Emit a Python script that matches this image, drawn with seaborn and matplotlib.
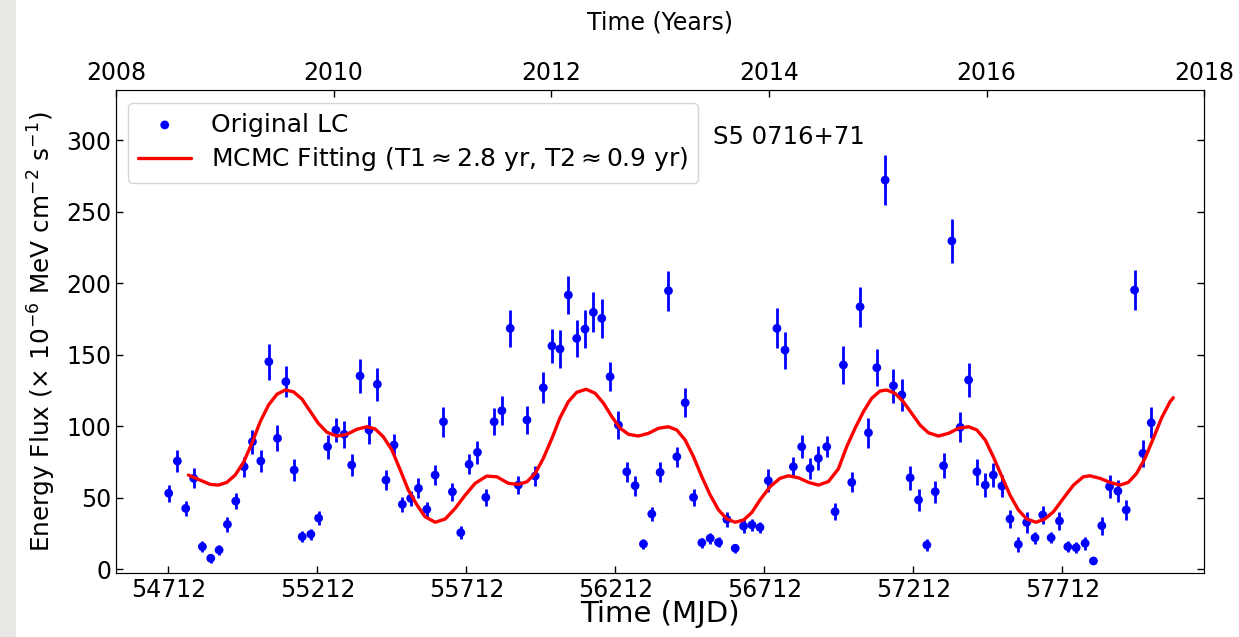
import numpy as np
import matplotlib
matplotlib.use("Agg")
import matplotlib.pyplot as plt
from matplotlib.patches import Rectangle
import seaborn as sns

# ---- data ----
lc_mjd = [54713, 54742, 54770, 54797, 54826, 54854, 54882, 54910, 54938, 54966, 54994, 55022, 55049, 55078, 55106, 55134, 55161, 55190, 55216,
          55246, 55274, 55302, 55327, 55355, 55385, 55413, 55442, 55469, 55497, 55525, 55551, 55579, 55607, 55635, 55665, 55693, 55721, 55749, 55777, 55805,
          55831, 55859, 55886, 55915, 55943, 55970, 55999, 56026, 56054, 56082, 56110, 56138, 56166, 56194, 56222, 56250, 56278, 56306, 56334, 56362, 56390, 56418,
          56446, 56474, 56502, 56530, 56558, 56586, 56614, 56642, 56670, 56697, 56725, 56754, 56781, 56809, 56837, 56865, 56893, 56921, 56949, 56977, 57005, 57033,
          57061, 57089, 57117, 57145, 57173, 57201, 57229, 57257, 57285, 57313, 57341, 57369, 57397, 57425, 57453, 57480, 57509, 57536, 57564, 57592, 57620,
          57646, 57674, 57702, 57730, 57758, 57788, 57816, 57844, 57870, 57898, 57926, 57954, 57982, 58010]

lc_flux = [53, 75.5, 42.4, 63.4, 15.6, 7.5, 13.3, 31.2, 47.5, 71.5, 89, 75.5, 145, 91.4, 131, 69.2, 22.6, 24.3, 35.6,
           85.5, 97.2, 94.2, 72.7, 135, 97.2, 129.2, 62.2, 86.7, 45.2, 49.4, 56.4, 41.7, 65.7, 103, 54, 25.4, 73.2, 81.6, 50.1, 103,
           110.7, 168.3, 58.7, 104.2, 65, 126.8, 156, 153.9, 191.6, 161.3, 167.8, 179.5, 175.3, 134.5, 100.7, 68, 58.3, 17.5, 38.5, 67.6, 194.6, 78.5,
           116.3, 50.1, 18.4, 21.5, 18.6, 34.7, 14.5, 30, 30.8, 29.1, 61.8, 168.3, 153.1, 71.5, 85.5, 70.4, 77.4, 85.5, 40.1, 142.7, 60.6, 183.4,
           95.3, 140.8, 272, 128.2, 121.7, 63.8, 48.3, 16.8, 54.1, 72.2, 229.4, 99.1, 132.2, 68, 58.7, 65.7, 58, 35, 17.2, 32.6, 21.9,
           37.8, 21.9, 33.6, 15.6, 14.9, 18, 5.6, 30.3, 57.6, 54.5, 41.3, 195.1, 80.9, 102.3]

lc_err = [6, 8, 5.5, 7, 4, 3, 3.5, 5, 5.5, 7, 8.5, 8, 12.5, 9, 11, 7.5, 4, 4, 5,
          8.5, 8.5, 9.5, 7.5, 12, 9.5, 11.5, 7, 8, 5.5, 5.5, 7, 5, 7, 10.5, 6.5, 4.5, 7, 8, 6, 9.5,
          10, 13, 6.5, 9.5, 7, 11, 12, 13, 13, 13, 13.5, 14, 13.5, 10, 10, 7, 7, 3.5, 5, 7, 14, 7,
          10, 6, 3.5, 4, 3.5, 5, 3, 5, 4.5, 4, 8, 14, 13, 7, 8, 7.5, 8.5, 7.5, 6, 13, 7, 14,
          10.5, 13, 17.5, 12, 11.3, 8.4, 7.6, 4.3, 7.7, 8.7, 15.5, 10.5, 11.7, 9, 8.4, 8.4, 7.5, 6.2, 5.4, 7.6, 4.3,
          6, 4, 6, 4, 4, 4.5, 2, 6.4, 8.2, 7.6, 7, 14, 9.3, 11]

fit_mjd = [54779, 54818, 54852, 54880, 54908, 54936, 54964, 54992, 55020, 55048, 55076, 55104, 55131, 55160, 55187, 55215,
           55244, 55277, 55311, 55344, 55378, 55406, 55433, 55462, 55490, 55517, 55546, 55573, 55607, 55641, 55674, 55708,
           55741, 55780, 55814, 55853, 55886, 55915, 55943, 55970, 55999, 56026, 56054, 56082, 56114, 56144, 56172, 56200,
           56228, 56256, 56289, 56323, 56356, 56390, 56418, 56446, 56474, 56502, 56530, 56558, 56586, 56614, 56642, 56670,
           56697, 56731, 56764, 56792, 56826, 56860, 56893, 56927, 56960, 56988, 57016, 57044, 57072, 57100, 57122, 57150,
           57178, 57206, 57234, 57262, 57296, 57330, 57363, 57397, 57425, 57453, 57480, 57509, 57536, 57564, 57592, 57623,
           57653, 57682, 57715, 57749, 57782, 57804, 57838, 57871, 57905, 57933, 57961, 57989, 58017, 58045, 58073, 58084]

fit_flux = [65.7, 62.2, 59.2, 58.7, 60.6, 65.7, 74.6, 87.9, 103.0, 114.7, 122.2, 125.2, 124.0, 118.9, 110.5, 101.9,
            95.6, 93.0, 94.2, 97.7, 99.5, 97.9, 92.5, 83.2, 69.2, 55.2, 44.8, 36.6, 32.7, 35.0, 42.4, 51.7,
            59.9, 65.0, 64.5, 59.9, 59.2, 61.0, 66.9, 77.4, 91.4, 105.8, 117.0, 123.6, 125.7, 122.9, 115.9, 106.5,
            98.4, 94.2, 93.0, 94.9, 98.4, 99.5, 97.2, 90.2, 78.5, 64.5, 51.7, 41.3, 35.0, 32.7, 34.3, 39.6,
            48.3, 57.6, 63.4, 65.2, 63.8, 60.6, 58.7, 61.2, 70.0, 85.5, 98.4, 110.0, 119.4, 124.5, 125.2, 122.9,
            117.0, 108.9, 100.7, 95.3, 93.0, 94.9, 98.4, 99.5, 97.2, 90.2, 78.5, 64.5, 51.7, 41.3, 35.0, 32.7,
            35.0, 40.1, 49.4, 58.7, 64.5, 65.2, 63.4, 60.6, 58.7, 60.6, 66.9, 77.4, 91.4, 105.8, 117.0, 119.8]

mjd_ticks = [54712, 55212, 55712, 56212, 56712, 57212, 57712]
year_ticks = [2008, 2010, 2012, 2014, 2016, 2018]
y_ticks = [0, 50, 100, 150, 200, 250, 300]

# ---- figure ----
fig = plt.figure(figsize=(12.39, 6.37), dpi=100)
fig.patches.append(Rectangle((0, 0), 16 / 1239, 1, transform=fig.transFigure,
                             facecolor='#e8e8e4', edgecolor='none', zorder=-10))
ax = fig.add_axes([0.0936, 0.1009, 0.972 - 0.0936, 0.8587 - 0.1009])

ax.errorbar(lc_mjd, lc_flux, yerr=lc_err, fmt='none', ecolor='blue',
            elinewidth=2.0, capsize=0, zorder=2)
sns.scatterplot(x=lc_mjd, y=lc_flux, ax=ax, color='blue', s=40,
                edgecolor='none', label='Original LC', zorder=3)
sns.lineplot(x=fit_mjd, y=fit_flux, ax=ax, color='red', linewidth=2.4,
             solid_joinstyle='round', solid_capstyle='round',
             label=r'MCMC Fitting (T1$\approx$2.8 yr, T2$\approx$0.9 yr)', zorder=4)

ax.set_xlim(54536, 58188)
ax.set_ylim(-2.6, 335)
ax.set_xticks(mjd_ticks)
ax.set_xticklabels([str(t) for t in mjd_ticks])
ax.set_yticks(y_ticks)
ax.tick_params(direction='in', length=5, width=1, labelsize=17, right=True)
ax.set_xlabel('Time (MJD)', fontsize=21, labelpad=-1)
ax.set_ylabel(r'Energy Flux ($\times$ 10$^{-6}$ MeV cm$^{-2}$ s$^{-1}$)', fontsize=17.8, labelpad=6)
for s in ax.spines.values():
    s.set_color('#333333')

ax.text(56540, 302, 'S5 0716+71', fontsize=17.5, va='center', ha='left')

leg = ax.legend(loc='upper left', fontsize=18, handlelength=2.1, markerscale=1.0,
                labelspacing=0.35)

ax2 = ax.twiny()
ax2.set_xlim(2008, 2018)
ax2.set_xticks(year_ticks)
ax2.tick_params(direction='in', length=5, width=1, labelsize=17)
ax2.set_xlabel('Time (Years)', fontsize=17, labelpad=23)

fig.savefig('out.png', dpi=100)
